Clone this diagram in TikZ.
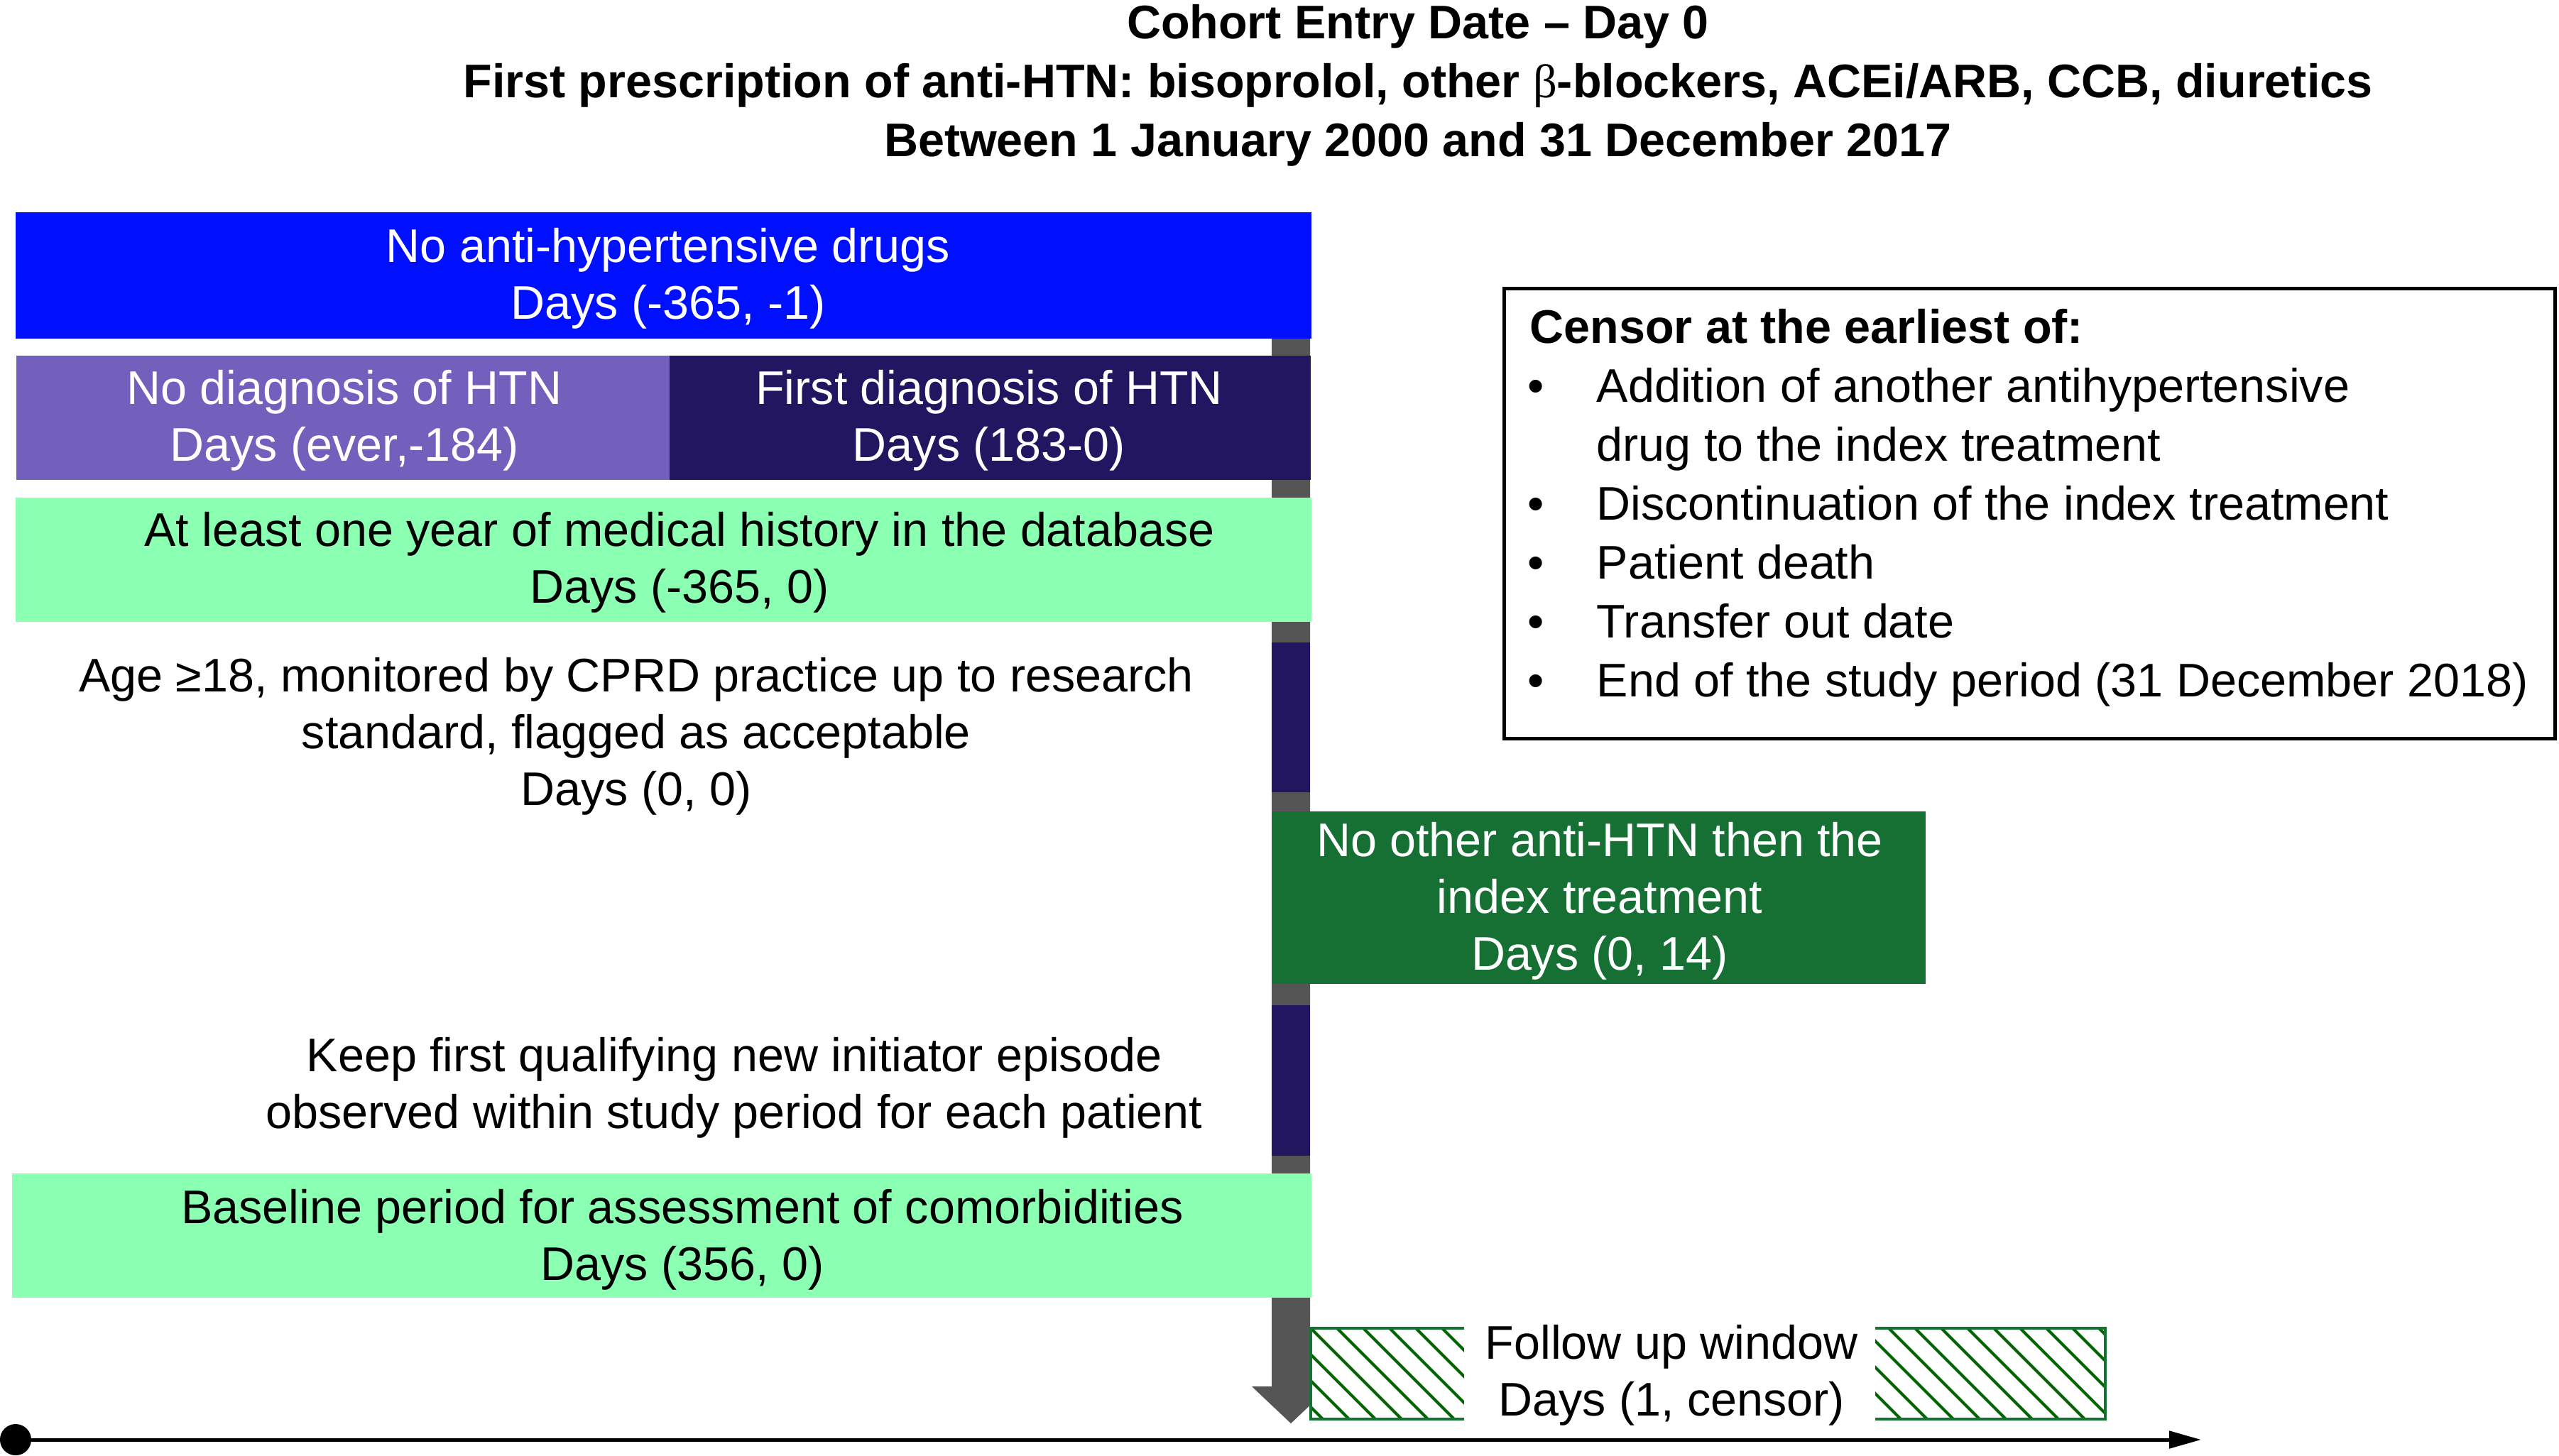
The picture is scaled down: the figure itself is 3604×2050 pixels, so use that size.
\documentclass[tikz,border=0pt]{standalone}
\usepackage{fontspec}
\setmainfont{Liberation Sans}
\newfontfamily\greekserif{Liberation Serif}
\usetikzlibrary{arrows.meta}
\definecolor{cblue}{RGB}{0,16,255}
\definecolor{cpurple}{RGB}{115,95,188}
\definecolor{cnavy}{RGB}{33,22,95}
\definecolor{clgreen}{RGB}{139,255,178}
\definecolor{cdgreen}{RGB}{22,111,51}
\definecolor{cgray}{RGB}{85,85,85}
\definecolor{chatch}{RGB}{0,100,0}
\definecolor{chborder}{RGB}{20,115,50}
\begin{document}
\begin{tikzpicture}[x=0.01cm, y=-0.01cm,
  box/.style={rectangle, inner sep=0pt, outer sep=0pt, draw=none},
  txt/.style={inner sep=0pt, align=center, font=\fontsize{18.9}{22.76}\selectfont},
  wtxt/.style={txt, text=white}]
\useasboundingbox (0,0) rectangle (3604,2050);

% title
\node[txt, font=\fontsize{18.9}{23.6}\selectfont\bfseries] (title) at (1997,120)
  {Cohort Entry Date – Day 0\\First prescription of anti-HTN: bisoprolol, other {\greekserif\mdseries β}-blockers, ACEi/ARB, CCB, diuretics\\Between 1 January 2000 and 31 December 2017};

% gray time arrow with navy segments
\fill[cgray] (1791,470) -- (1845,470) -- (1845,1953) -- (1873,1953) -- (1818,2005) -- (1763,1953) -- (1791,1953) -- cycle;
\fill[cnavy] (1791,905) rectangle (1845,1116);
\fill[cnavy] (1791,1416) rectangle (1845,1628);

% boxes
\node[box, fill=cblue, minimum width=18.23cm, minimum height=1.78cm] (nodrug) at (934.5,388) {};
\node[wtxt] (nodrugt) at (941,392) {No anti-hypertensive drugs\\Days (-365, -1)};

\node[box, fill=cpurple, minimum width=9.20cm, minimum height=1.75cm] (nodiag) at (483,588.5) {};
\node[wtxt] (nodiagt) at (485,592) {No diagnosis of HTN\\Days (ever,-184)};
\node[box, fill=cnavy, minimum width=9.03cm, minimum height=1.75cm] (firstdiag) at (1394.5,588.5) {};
\node[wtxt] (firstdiagt) at (1393,592) {First diagnosis of HTN\\Days (183-0)};

\node[box, fill=clgreen, minimum width=18.23cm, minimum height=1.75cm] (hist) at (934.5,788.5) {};
\node[txt] (histt) at (957,792) {At least one year of medical history in the database\\Days (-365, 0)};

\node[txt] (age) at (896,1037) {Age ≥18, monitored by CPRD practice up to research\\standard, flagged as acceptable\\Days (0, 0)};

\node[box, fill=cdgreen, minimum width=9.21cm, minimum height=2.43cm] (other) at (2251.5,1264.5) {};
\node[wtxt] (othert) at (2253,1269) {No other anti-HTN then the\\index treatment\\Days (0, 14)};

\node[txt] (keep) at (1034,1532) {Keep first qualifying new initiator episode\\observed within study period for each patient};

\node[box, fill=clgreen, minimum width=18.28cm, minimum height=1.75cm] (base) at (932,1740.5) {};
\node[txt] (baset) at (961,1746) {Baseline period for assessment of comorbidities\\Days (356, 0)};

% censor box
\node[box, draw=black, line width=0.05cm, minimum width=14.79cm, minimum height=6.33cm] (censbox) at (2858.5,723.5) {};
\node[anchor=north west, inner sep=0pt, align=left, font=\fontsize{18.9}{23.6}\selectfont] (cens) at (2154,435)
  {\textbf{Censor at the earliest of:}\\
   \makebox[0.94cm][l]{\hspace*{-0.03cm}•}Addition of another antihypertensive\\
   \hspace*{0.94cm}drug to the index treatment\\
   \makebox[0.94cm][l]{\hspace*{-0.03cm}•}Discontinuation of the index treatment\\
   \makebox[0.94cm][l]{\hspace*{-0.03cm}•}Patient death\\
   \makebox[0.94cm][l]{\hspace*{-0.03cm}•}Transfer out date\\
   \makebox[0.94cm][l]{\hspace*{-0.03cm}•}End of the study period (31 December 2018)};

% follow up window
\node[box, fill=white, minimum width=11.19cm, minimum height=1.28cm] (fu) at (2405.5,1935) {};
\begin{scope}
  \clip (1846,1871) rectangle (2965,1999);
  \foreach \i in {-4,...,31} \draw[chatch, line width=0.04cm] (1846+37*\i,1871) -- ++(128,128);
\end{scope}
\draw[chborder, line width=0.04cm] (fu.north west) rectangle (fu.south east);
\node[box, fill=white, minimum width=5.79cm, minimum height=1.5cm] (fucover) at (2351.5,1935) {};
\node[txt] (fut) at (2354,1937) {Follow up window\\Days (1, censor)};

% timeline
\node[circle, fill=black, inner sep=0pt, minimum size=0.44cm] (dot) at (22,2028) {};
\coordinate (tend) at (3100,2028);
\draw[line width=0.05cm, -{Triangle[length=0.45cm,width=0.24cm]}] (dot.center) -- (tend);
\end{tikzpicture}
\end{document}
